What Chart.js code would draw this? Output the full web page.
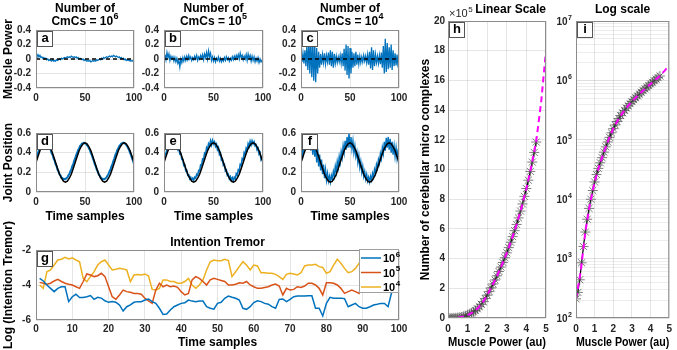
<!DOCTYPE html>
<html>
<head>
<meta charset="utf-8">
<script src="https://cdn.jsdelivr.net/npm/chart.js@4.4.1/dist/chart.umd.min.js"></script>
<style>
  html, body { margin: 0; padding: 0; background: #fff; }
  #wrap { position: relative; width: 677px; height: 350px; overflow: hidden; }
  #wrap canvas { position: absolute; left: 0; top: 0; }
</style>
</head>
<body>
<div id="wrap">
  <canvas id="pa" width="677" height="350"></canvas>
  <canvas id="pb" width="677" height="350"></canvas>
  <canvas id="pc" width="677" height="350"></canvas>
  <canvas id="pd" width="677" height="350"></canvas>
  <canvas id="pe" width="677" height="350"></canvas>
  <canvas id="pf" width="677" height="350"></canvas>
  <canvas id="pg" width="677" height="350"></canvas>
  <canvas id="ph" width="677" height="350"></canvas>
  <canvas id="pi" width="677" height="350"></canvas>
</div>
<script>
/* ---------- data ---------- */
// muscle power, one value per time sample 0..100
const powerA = [
  0.02, 0.04, 0.06, 0.03, 0.05, 0.02, 0.03, 0.01, 0.02, 0.0,
  0.01, -0.01, 0.0, -0.02, -0.01, -0.02, -0.03, -0.01, -0.03, -0.02,
  -0.03, -0.01, -0.02, -0.01, 0.0, -0.01, 0.01, 0.0, 0.01, 0.02,
  0.01, 0.02, 0.03, 0.02, 0.03, 0.02, 0.04, 0.03, 0.02, 0.03,
  0.02, 0.03, 0.01, 0.02, 0.0, 0.01, 0.0, -0.01, 0.0, -0.02,
  -0.01, -0.02, -0.03, -0.02, -0.03, -0.02, -0.04, -0.03, -0.02, -0.03,
  -0.02, -0.03, -0.01, -0.02, -0.01, 0.0, -0.01, 0.01, 0.0, 0.02,
  0.01, 0.02, 0.03, 0.02, 0.03, 0.04, 0.03, 0.04, 0.03, 0.05,
  0.04, 0.03, 0.04, 0.03, 0.02, 0.03, 0.01, 0.02, 0.0, 0.01,
  -0.01, 0.0, -0.02, -0.01, -0.02, -0.01, -0.03, -0.02, -0.03, -0.02,
  -0.04];
const powerB = [
  0.02, 0.06, -0.01, 0.09, 0.02, 0.07, -0.02, 0.04, 0.0, 0.03,
  -0.03, 0.02, -0.04, 0.01, -0.06, -0.02, -0.11, 0.0, -0.05, 0.02,
  -0.03, 0.03, -0.02, 0.04, -0.01, 0.05, 0.0, 0.03, -0.02, 0.02,
  -0.01, 0.04, 0.0, 0.05, -0.02, 0.03, 0.0, 0.05, 0.01, 0.06,
  -0.01, 0.07, 0.02, 0.09, 0.0, 0.11, 0.03, 0.08, -0.02, 0.03,
  -0.03, 0.02, -0.04, 0.01, -0.02, 0.03, -0.03, 0.01, -0.04, 0.0,
  -0.03, 0.02, -0.02, 0.03, -0.01, 0.02, -0.03, 0.01, -0.02, 0.03,
  -0.01, 0.04, 0.0, 0.05, 0.01, 0.06, 0.0, 0.08, 0.02, 0.05,
  -0.01, 0.04, 0.0, 0.06, -0.02, 0.07, 0.01, 0.05, -0.03, 0.04,
  -0.02, 0.03, -0.04, 0.01, -0.03, 0.02, -0.05, 0.0, -0.04, -0.02,
  -0.08];
const powerC = [
  0.05, -0.04, 0.08, -0.06, 0.12, -0.1, 0.18, -0.15, 0.24, -0.2,
  0.27, -0.25, 0.22, -0.3, 0.25, -0.32, 0.15, -0.2, 0.1, -0.12,
  0.07, -0.08, 0.06, -0.05, 0.08, -0.07, 0.05, -0.04, 0.09, -0.08,
  0.12, -0.1, 0.1, -0.12, 0.07, -0.06, 0.04, -0.05, 0.03, -0.04,
  0.05, -0.06, 0.08, -0.1, 0.14, -0.16, 0.2, -0.22, 0.18, -0.27,
  0.15, -0.2, 0.1, -0.12, 0.08, -0.1, 0.1, -0.08, 0.06, -0.07,
  0.04, -0.05, 0.03, -0.04, 0.05, -0.03, 0.04, -0.05, 0.06, -0.08,
  0.1, -0.13, 0.16, -0.15, 0.12, -0.1, 0.06, -0.05, 0.04, -0.06,
  0.05, -0.07, 0.09, -0.12, 0.18, -0.2, 0.28, -0.18, 0.22, -0.14,
  0.16, -0.12, 0.2, -0.15, 0.12, -0.1, 0.08, -0.09, 0.06, -0.1,
  -0.15];
const zeroLineX = [0, 100];
const zeroLineY = [0, 0];

// joint position, one value per time sample 0..100
const jointD = [
  .344, .378, .395, .430, .441, .470, .476, .495, .494, .503,
  .492, .494, .476, .468, .440, .428, .393, .377, .339, .320,
  .281, .262, .226, .210, .180, .169, .146, .142, .128, .133,
  .129, .142, .147, .169, .181, .210, .227, .262, .282, .319,
  .341, .376, .396, .428, .443, .469, .477, .494, .495, .502,
  .494, .493, .476, .469, .442, .427, .395, .376, .341, .318,
  .283, .260, .228, .209, .181, .167, .148, .141, .129, .132,
  .130, .141, .148, .168, .182, .209, .229, .260, .284, .318,
  .342, .377, .397, .427, .444, .468, .478, .493, .496, .501,
  .495, .492, .478, .467, .444, .426, .397, .375, .342, .317,
  .284];
const jointE = [
  .340, .390, .385, .440, .430, .480, .470, .510, .485, .520,
  .490, .505, .470, .480, .430, .445, .385, .390, .330, .330,
  .270, .275, .215, .220, .170, .175, .135, .150, .120, .140,
  .120, .150, .140, .180, .170, .220, .215, .275, .270, .335,
  .330, .395, .385, .450, .430, .490, .470, .520, .480, .525,
  .490, .510, .465, .485, .430, .450, .380, .395, .325, .335,
  .270, .280, .215, .225, .170, .180, .135, .155, .120, .145,
  .115, .150, .135, .185, .170, .225, .215, .280, .270, .340,
  .330, .400, .380, .445, .425, .490, .465, .515, .480, .520,
  .490, .510, .470, .480, .430, .445, .385, .400, .330, .350,
  .370];
const jointF = [
  .330, .420, .380, .500, .420, .560, .450, .600, .480, .600,
  .420, .580, .380, .520, .360, .480, .300, .440, .260, .380,
  .220, .330, .180, .280, .140, .230, .120, .190, .110, .160,
  .100, .170, .130, .210, .160, .260, .200, .310, .250, .360,
  .300, .410, .350, .470, .400, .520, .430, .560, .450, .600,
  .460, .560, .440, .520, .400, .470, .360, .410, .300, .370,
  .250, .310, .200, .260, .160, .210, .130, .180, .110, .150,
  .100, .160, .120, .190, .150, .230, .190, .280, .240, .330,
  .290, .390, .340, .450, .390, .510, .420, .550, .450, .560,
  .430, .540, .400, .510, .380, .470, .360, .450, .340, .420,
  .400];
// desired joint position, every second time sample 0..100
const jointRef = [
  .30, .36, .42, .46, .49, .50, .49, .46, .42, .36,
  .30, .24, .18, .14, .11, .10, .11, .14, .18, .24,
  .30, .36, .42, .46, .49, .50, .49, .46, .42, .36,
  .30, .24, .18, .14, .11, .10, .11, .14, .18, .24,
  .30, .36, .42, .46, .49, .50, .49, .46, .42, .36,
  .30];

// log intention tremor, time samples 1..98
const tremorLabels = ['10⁶', '10⁵', '10⁴'];
const tremor6 = [
  -3.62, -3.77, -4.0, -4.19, -4.38, -4.19, -4.1, -4.1, -4.95, -4.67,
  -4.53, -4.72, -4.72, -4.67, -4.6, -4.82, -4.7, -4.75, -4.9, -4.99,
  -4.95, -4.99, -5.14, -5.49, -5.24, -5.14, -4.99, -4.95, -4.95, -4.86,
  -4.8, -4.95, -5.05, -5.33, -5.68, -5.66, -5.43, -5.24, -5.14, -5.05,
  -5.01, -4.86, -4.92, -4.95, -4.92, -4.92, -5.24, -5.33, -5.38, -5.05,
  -4.99, -4.76, -4.63, -4.7, -4.76, -4.86, -5.33, -5.39, -5.24, -5.0,
  -4.9, -4.95, -5.05, -5.1, -5.24, -5.33, -4.82, -4.8, -4.95, -4.82,
  -4.67, -4.63, -4.63, -4.63, -4.62, -4.62, -5.33, -5.33, -5.77, -5.05,
  -4.7, -4.75, -4.75, -4.75, -4.78, -5.24, -5.14, -5.05, -5.24, -5.33,
  -5.33, -5.24, -5.14, -5.1, -5.05, -5.05, -5.24, -4.4];
const tremor5 = [
  -3.85, -3.9, -3.96, -3.9, -3.77, -3.68, -3.8, -3.9, -3.96, -4.0,
  -4.1, -4.19, -3.8, -3.37, -3.43, -3.52, -3.47, -3.33, -3.52, -4.1,
  -4.67, -4.82, -4.57, -4.29, -4.38, -4.42, -4.48, -4.48, -4.53, -4.76,
  -4.91, -5.05, -4.29, -3.9, -4.1, -4.0, -4.1, -4.06, -4.13, -4.38,
  -4.57, -4.48, -3.71, -3.52, -3.62, -3.8, -4.0, -3.71, -3.62, -3.68,
  -3.74, -3.8, -4.0, -4.0, -3.96, -3.87, -3.9, -3.8, -4.0, -4.1,
  -4.19, -4.19, -4.14, -4.1, -4.0, -3.95, -4.06, -4.57, -4.19, -4.29,
  -4.25, -4.1, -4.14, -4.06, -3.9, -3.9, -4.0, -4.19, -4.57, -3.87,
  -3.87, -3.9, -4.0, -4.19, -4.48, -4.38, -4.29, -4.38, -4.48, -3.8,
  -3.9, -4.0, -4.1, -4.05, -4.0, -4.1, -4.05, -4.1];
const tremor4 = [
  -4.0, -4.19, -3.24, -3.14, -2.86, -2.57, -2.53, -2.42, -2.51, -2.44,
  -2.57, -2.67, -3.62, -3.81, -3.52, -3.24, -2.86, -2.67, -2.57, -2.86,
  -3.14, -3.1, -3.05, -3.08, -3.14, -3.81, -3.43, -3.4, -3.43, -3.37,
  -3.49, -4.25, -4.29, -4.19, -3.71, -3.71, -3.8, -3.8, -3.9, -3.9,
  -3.8, -3.62, -4.0, -4.19, -4.0, -3.71, -3.14, -2.67, -2.57, -2.61,
  -2.61, -2.53, -2.61, -3.52, -3.24, -2.95, -2.67, -2.86, -3.14, -2.86,
  -2.91, -3.3, -3.3, -3.33, -3.33, -3.39, -3.52, -3.68, -3.39, -3.33,
  -3.37, -3.43, -3.3, -2.91, -2.86, -2.86, -2.82, -2.95, -3.0, -3.33,
  -3.24, -2.86, -2.53, -2.76, -3.05, -3.3, -3.24, -3.05, -2.76, -2.9,
  -3.0, -3.1, -3.0, -2.95, -3.05, -3.1, -3.0, -3.05];

// cerebellar micro complexes vs muscle power
const cmcPower = [
  0.0, 0.1, 0.2, 0.3, 0.4, 0.5, 0.6, 0.7, 0.8, 0.9,
  1.0, 1.1, 1.2, 1.3, 1.4, 1.5, 1.6, 1.7, 1.8, 1.9,
  2.0, 2.1, 2.2, 2.3, 2.4, 2.5, 2.6, 2.7, 2.8, 2.9,
  3.0, 3.1, 3.2, 3.3, 3.4, 3.5, 3.6, 3.7, 3.8, 3.9,
  4.0, 4.1, 4.2, 4.3, 4.4, 4.5];
const cmcCount = [
  210, 270, 440, 850, 1600, 2800, 4600, 7000, 10000, 14000,
  19500, 26000, 33000, 41000, 50000, 62000, 76000, 92000, 110000, 131000,
  154000, 178000, 203000, 229000, 256000, 284000, 313000, 343000, 374000, 406000,
  439000, 474000, 510000, 548000, 588000, 630000, 674000, 720000, 768000, 819000,
  872000, 928000, 987000, 1050000, 1115000, 1185000];
const fitPower = [0, 0.25, 0.5, 0.75, 1, 1.25, 1.5, 1.75, 2, 2.25, 2.5,
  2.75, 3, 3.25, 3.5, 3.75, 4, 4.25, 4.5, 4.75, 5];
const fitCount = [210, 600, 2800, 8400, 19500, 37000, 62000, 101000, 154000, 216000, 284000,
  358000, 439000, 529000, 630000, 744000, 872000, 1020000, 1190000, 1450000, 1800000];

const logDecades = [1e2, 1e3, 1e4, 1e5, 1e6, 1e7];
const logMinor = [2, 3, 4, 5, 6, 7, 8, 9];
const SUP = '⁰¹²³⁴⁵⁶⁷⁸⁹';

/* ---------- style ---------- */
const W = 677, H = 350;
const FONT = "'Liberation Sans', Arial, Helvetica, sans-serif";
const GRID = 'rgba(0,0,0,0.1)';
const BLUE = '#0072BD', RED = '#D95319', YELLOW = '#EDB120';

Chart.defaults.font.family = FONT;
Chart.defaults.font.size = 10;
Chart.defaults.font.weight = 'bold';
Chart.defaults.color = '#262626';
Chart.defaults.animation = false;
Chart.defaults.responsive = false;
Chart.defaults.plugins.legend.display = false;
Chart.defaults.plugins.tooltip.enabled = false;

function pts(xs, ys) { return ys.map((v, i) => ({x: xs[i], y: v})); }
function perSample(ys, start, step) { return ys.map((v, i) => ({x: start + i * step, y: v})); }

// "10⁶" -> ['10', '6'] so the exponent can be drawn as a real superscript
function splitPow(label) {
  const last = label.slice(-1);
  const k = SUP.indexOf(last);
  return k < 0 ? [label, ''] : [label.slice(0, -1), String(k)];
}
// draws base + raised exponent; x is the left edge, y the middle of the base text
function drawPow(ctx, base, exp, x, y, size, weight) {
  ctx.textAlign = 'left';
  ctx.textBaseline = 'middle';
  ctx.font = weight + ' ' + size + 'px ' + FONT;
  ctx.fillText(base, x, y);
  const wb = ctx.measureText(base).width;
  ctx.font = weight + ' ' + Math.round(size * 0.72) + 'px ' + FONT;
  ctx.fillText(exp, x + wb + 0.5, y - size * 0.42);
}
function powWidth(ctx, base, exp, size, weight) {
  ctx.font = weight + ' ' + size + 'px ' + FONT;
  const wb = ctx.measureText(base).width;
  ctx.font = weight + ' ' + Math.round(size * 0.72) + 'px ' + FONT;
  return wb + 0.5 + ctx.measureText(exp).width;
}

// axes box, panel letter, superscripts and inset legend
const panelBox = {
  id: 'panelBox',
  afterDraw(chart, args, opts) {
    const {ctx, chartArea: a} = chart;
    ctx.save();
    ctx.strokeStyle = '#8c8c8c';
    ctx.lineWidth = 1;
    ctx.strokeRect(a.left + 0.5, a.top + 0.5, a.right - a.left - 1, a.bottom - a.top - 1);
    if (opts.letter) {
      ctx.fillStyle = '#fff';
      ctx.fillRect(a.left + 1, a.top + 1, 15, 15);
      ctx.strokeStyle = '#555';
      ctx.strokeRect(a.left + 1.5, a.top + 1.5, 15, 15);
      ctx.fillStyle = '#000';
      ctx.font = 'bold 13px ' + FONT;
      ctx.textAlign = 'center';
      ctx.textBaseline = 'middle';
      ctx.fillText(opts.letter, a.left + 9, a.top + 8.5);
    }
    // second title line: "CmCs = 10" + exponent
    if (opts.headBase) {
      ctx.fillStyle = '#000';
      const w = powWidth(ctx, opts.headBase, opts.headExp, 12, 'bold');
      drawPow(ctx, opts.headBase, opts.headExp, (a.left + a.right) / 2 - w / 2, a.top - 8, 12, 'bold');
    }
    if (opts.exponent) {
      ctx.fillStyle = '#262626';
      const [b, e] = splitPow(opts.exponent);
      drawPow(ctx, b, e, a.left + 1, a.top - 7, 11, 'normal');
    }
    // log axis labels 10^n
    if (opts.logLabels) {
      const sc = chart.scales.y;
      ctx.fillStyle = '#262626';
      logDecades.forEach(d => {
        const e = String(Math.round(Math.log10(d)));
        const w = powWidth(ctx, '10', e, 10, 'bold');
        drawPow(ctx, '10', e, a.left - 4 - w, sc.getPixelForValue(d) + 1, 10, 'bold');
      });
    }
    if (opts.legend) {
      const sets = chart.data.datasets;
      const lw = 40, lh = 44, lx = a.right - lw, ly = a.top - 1;
      ctx.fillStyle = '#fff';
      ctx.fillRect(lx, ly, lw, lh);
      ctx.strokeStyle = '#a0a0a0';
      ctx.strokeRect(lx + 0.5, ly + 0.5, lw - 1, lh - 1);
      sets.forEach((ds, k) => {
        const yy = ly + 9 + k * 14.5;
        ctx.strokeStyle = ds.borderColor;
        ctx.lineWidth = 1.5;
        ctx.beginPath();
        ctx.moveTo(lx + 2, yy);
        ctx.lineTo(lx + 22, yy);
        ctx.stroke();
        ctx.fillStyle = '#000';
        const [b, e] = splitPow(ds.label);
        drawPow(ctx, b, e, lx + 24, yy + 1, 11, 'bold');
      });
    }
    ctx.restore();
  }
};

function axisTitle(text, pad) {
  if (!text) return {display: false};
  return {display: true, text: text, color: '#000',
    font: {size: 12, weight: 'bold', lineHeight: 1.2}, padding: pad};
}

function makePanel(id, p) {
  const [l, t, r, b] = p.box;
  const lines = p.title ? [].concat(p.title).length : 0;
  const titleH = lines * 12 * 1.2 + (p.titleGap || 0);
  const yAxis = Object.assign({
    type: 'linear', min: p.y.min, max: p.y.max,
    border: {display: false},
    grid: {color: GRID, drawTicks: false},
    ticks: {stepSize: p.y.step, autoSkip: false, padding: p.y.pad || 5},
    title: axisTitle(p.y.title, {top: 1, bottom: 0}),
    afterFit: s => { s.width = p.yW; }
  }, p.y.extra || {});
  if (p.y.callback) yAxis.ticks.callback = p.y.callback;
  return new Chart(document.getElementById(id), {
    type: 'line',
    data: {datasets: p.datasets},
    options: {
      layout: {padding: {left: l - p.yW, top: t - titleH, right: W - r, bottom: H - b - p.xH}},
      elements: {point: {radius: 0}, line: {tension: 0}},
      plugins: {
        title: {
          display: lines > 0, text: p.title, fullSize: false, align: p.titleAlign || 'center',
          color: '#000', font: {size: 12, weight: 'bold', lineHeight: 1.2},
          padding: {top: 0, bottom: p.titleGap || 0}
        },
        panelBox: Object.assign({letter: p.letter}, p.extra || {})
      },
      scales: {
        x: {
          type: 'linear', min: p.x.min, max: p.x.max,
          border: {display: false},
          grid: {color: GRID, drawTicks: false},
          ticks: {stepSize: p.x.step, autoSkip: false, maxRotation: 0, padding: p.x.pad},
          title: axisTitle(p.x.title, {top: 0, bottom: p.x.titlePad || 0}),
          afterFit: s => { s.height = p.xH; }
        },
        y: yAxis
      }
    },
    plugins: [panelBox]
  });
}

/* ---------- row 1: muscle power ---------- */
const powerRows = [
  {id: 'pa', letter: 'a', data: powerA, n: '10⁶', box: [36, 30, 134, 88], yW: 36, yTitle: 'Muscle Power'},
  {id: 'pb', letter: 'b', data: powerB, n: '10⁵', box: [164, 30, 263, 88], yW: 30},
  {id: 'pc', letter: 'c', data: powerC, n: '10⁴', box: [301, 30, 399, 88], yW: 30}
];
powerRows.forEach(r => {
  const [b, e] = splitPow(r.n);
  makePanel(r.id, {
    box: r.box, yW: r.yW, xH: 20, letter: r.letter,
    title: ['Number of', ''],
    extra: {headBase: 'CmCs = ' + b, headExp: e},
    x: {min: 0, max: 100, step: 50, pad: 4},
    y: {min: -0.4, max: 0.4, step: 0.2, title: r.yTitle},
    datasets: [
      {data: pts(zeroLineX, zeroLineY), borderColor: '#000', borderWidth: 1.5, borderDash: [4, 3]},
      {data: perSample(r.data, 0, 1), borderColor: BLUE, borderWidth: 1.3}
    ]
  });
});

/* ---------- row 2: joint position ---------- */
const jointRows = [
  {id: 'pd', letter: 'd', data: jointD, box: [36, 133, 134, 192], yW: 36, yTitle: 'Joint Position', w: 2},
  {id: 'pe', letter: 'e', data: jointE, box: [164, 133, 263, 192], yW: 30, w: 1.6},
  {id: 'pf', letter: 'f', data: jointF, box: [301, 133, 399, 192], yW: 30, w: 1.4}
];
jointRows.forEach(r => makePanel(r.id, {
  box: r.box, yW: r.yW, xH: 33, letter: r.letter,
  x: {min: 0, max: 100, step: 50, pad: 4, title: 'Time samples', titlePad: 1},
  y: {min: 0, max: 0.6, step: 0.2, title: r.yTitle},
  datasets: [
    {data: perSample(jointRef, 0, 2), borderColor: '#000', borderWidth: 1.5},
    {data: perSample(r.data, 0, 1), borderColor: BLUE, borderWidth: r.w}
  ]
}));

/* ---------- row 3: intention tremor ---------- */
makePanel('pg', {
  box: [36, 250, 399, 320], yW: 36, xH: 30, letter: 'g', extra: {legend: true},
  title: 'Intention Tremor',
  x: {min: 0, max: 100, step: 10, pad: 3, title: 'Time samples'},
  y: {min: -6, max: -2, step: 2, title: 'Log (Intention Tremor)'},
  datasets: [
    {label: tremorLabels[0], data: perSample(tremor6, 1, 1), borderColor: BLUE, borderWidth: 1.5},
    {label: tremorLabels[1], data: perSample(tremor5, 1, 1), borderColor: RED, borderWidth: 1.5},
    {label: tremorLabels[2], data: perSample(tremor4, 1, 1), borderColor: YELLOW, borderWidth: 1.5}
  ]
});

/* ---------- h / i: CmCs vs muscle power ---------- */
function cmcSets() {
  return [
    {data: pts(fitPower, fitCount), borderColor: '#ff00ff', borderWidth: 2, borderDash: [6, 4]},
    {data: pts(cmcPower, cmcCount), borderColor: '#000', borderWidth: 1.2,
      pointStyle: 'star', pointRadius: 5, pointBorderColor: 'rgba(70,70,70,0.7)', pointBorderWidth: 1}
  ];
}
makePanel('ph', {
  box: [448, 21, 546, 318], yW: 31, xH: 32, letter: 'h', extra: {exponent: '×10⁵'},
  title: 'Linear Scale', titleAlign: 'end', titleGap: 4,
  x: {min: 0, max: 5, step: 1, pad: 5, title: 'Muscle Power (au)'},
  y: {min: 0, max: 2e6, step: 2e5, pad: 3, title: 'Number of cerebellar micro complexes',
    callback: v => String(Math.round(v / 1e5))},
  datasets: cmcSets()
});

const logTicks = [];
logDecades.forEach((d, k) => {
  logTicks.push(d);
  if (k < logDecades.length - 1) logMinor.forEach(m => logTicks.push(m * d));
});
makePanel('pi', {
  box: [576, 21, 673, 318], yW: 30, xH: 32, letter: 'i', extra: {logLabels: true},
  title: 'Log scale', titleGap: 4,
  x: {min: 0, max: 5, step: 1, pad: 5, title: 'Muscle Power (au)'},
  y: {min: 1e2, max: 1e7, pad: 3,
    callback: () => '',
    extra: {
      type: 'logarithmic',
      afterBuildTicks: s => { s.ticks = logTicks.map(v => ({value: v, major: logDecades.includes(v)})); },
      grid: {drawTicks: false,
        color: c => (c.tick && logDecades.includes(c.tick.value)) ? 'rgba(0,0,0,0.13)' : 'rgba(0,0,0,0.07)'}
    }},
  datasets: cmcSets()
});
</script>
</body>
</html>
